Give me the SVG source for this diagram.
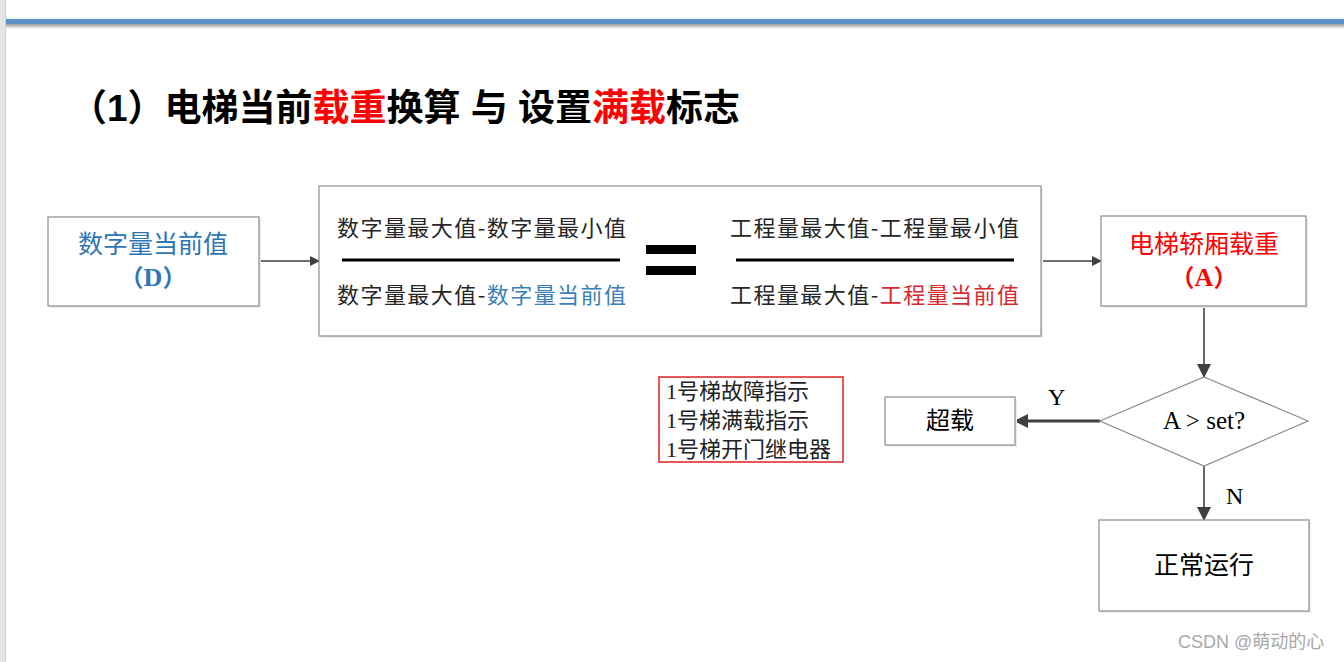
<svg xmlns="http://www.w3.org/2000/svg" width="1344" height="662" viewBox="0 0 1344 662">
<defs>
<marker id="arr" markerWidth="10" markerHeight="10" refX="9" refY="5" orient="auto" markerUnits="userSpaceOnUse"><path d="M0,0 L10,5 L0,10 Z" fill="#404040"/></marker>
<marker id="arrL" markerWidth="14" markerHeight="14" refX="13" refY="7" orient="auto" markerUnits="userSpaceOnUse"><path d="M0,0 L14,7 L0,14 Z" fill="#404040"/></marker>
<linearGradient id="barShade" x1="0" y1="0" x2="0" y2="1"><stop offset="0" stop-color="#9a9a9a"/><stop offset="1" stop-color="#ffffff"/></linearGradient>
</defs>
<style>
.box{fill:#fff;stroke:#8c8c8c;stroke-width:1.2}
.shadow{fill:#ececec}
.cjk{font-family:"Noto Sans CJK SC","Liberation Sans",sans-serif}
.ser{font-family:"Liberation Serif","Noto Sans CJK SC",serif}
.frac{font-family:"Noto Sans CJK SC","Liberation Sans",sans-serif;font-size:22px;fill:#262626}
.conn{stroke:#404040;stroke-width:1.6;fill:none}
</style>
<rect width="1344" height="662" fill="#ffffff"/>
<rect x="0" y="0" width="5" height="662" fill="#e4e4e4"/>
<rect x="5" y="0" width="1" height="662" fill="#d0d0d0"/>
<rect x="6" y="17" width="1338" height="2" fill="#eef8f8"/>
<rect x="6" y="19" width="1338" height="5" fill="#5b8fc6"/>
<rect x="6" y="24" width="1338" height="5" fill="url(#barShade)"/>

<text x="70" y="121" font-family="'Liberation Sans','Noto Sans CJK SC',sans-serif" font-weight="bold" font-size="37" fill="#000" textLength="670" lengthAdjust="spacing">（1）电梯当前<tspan fill="#ff0000">载重</tspan>换算 与 设置<tspan fill="#ff0000">满载</tspan>标志</text>

<g id="connectors">
<line class="conn" x1="259" y1="261" x2="319" y2="261" marker-end="url(#arr)"/>
<line class="conn" x1="1041" y1="261" x2="1101" y2="261" marker-end="url(#arr)"/>
<line class="conn" x1="1204" y1="306" x2="1204" y2="377" marker-end="url(#arrL)"/>
<line x1="1100" y1="421" x2="1015" y2="421" stroke="#404040" stroke-width="3" marker-end="url(#arrL)"/>
<line class="conn" x1="1204" y1="466" x2="1204" y2="520" marker-end="url(#arrL)"/>
<text x="1048" y="405" class="ser" font-size="24" fill="#000">Y</text>
<text x="1226" y="504" class="ser" font-size="24" fill="#000">N</text>
</g>

<g id="node-D">
<rect class="shadow" x="50" y="219" width="211" height="89"/>
<rect class="box" x="48" y="217" width="211" height="89"/>
<text x="153" y="253" class="cjk" font-size="25" fill="#2e75b6" text-anchor="middle">数字量当前值</text>
<text x="153" y="286" class="cjk" font-size="24" font-weight="bold" fill="#2e75b6" text-anchor="middle">（<tspan class="ser" font-size="26">D</tspan>）</text>
</g>

<g id="node-formula">
<rect class="shadow" x="321" y="188" width="722" height="150"/>
<rect class="box" x="319" y="186" width="722" height="150"/>
<text x="337" y="236" class="frac" textLength="289" lengthAdjust="spacing">数字量最大值-数字量最小值</text>
<line x1="342" y1="260" x2="620" y2="260" stroke="#000" stroke-width="3"/>
<text x="337" y="303" class="frac" textLength="289" lengthAdjust="spacing">数字量最大值-<tspan fill="#3a7fb8">数字量当前值</tspan></text>
<rect x="646" y="245" width="50" height="9" fill="#000"/>
<rect x="646" y="266" width="50" height="9" fill="#000"/>
<text x="730" y="236" class="frac" textLength="289" lengthAdjust="spacing">工程量最大值-工程量最小值</text>
<line x1="736" y1="260" x2="1014" y2="260" stroke="#000" stroke-width="3"/>
<text x="730" y="303" class="frac" textLength="289" lengthAdjust="spacing">工程量最大值-<tspan fill="#d8282e">工程量当前值</tspan></text>
</g>

<g id="node-A">
<rect class="shadow" x="1103" y="218" width="205" height="90"/>
<rect class="box" x="1101" y="216" width="205" height="90"/>
<text x="1204" y="253" class="cjk" font-size="25" fill="#ff0000" text-anchor="middle">电梯轿厢载重</text>
<text x="1204" y="286" class="cjk" font-size="24" font-weight="bold" fill="#ff0000" text-anchor="middle">（<tspan class="ser" font-size="26">A</tspan>）</text>
</g>

<g id="node-decision">
<polygon points="1204,377 1308,421 1204,466 1100,421" fill="#fff" stroke="#8c8c8c" stroke-width="1.2"/>
<text x="1204" y="429" class="ser" font-size="25" fill="#000" text-anchor="middle">A &gt; set?</text>
</g>

<g id="node-overload">
<rect class="shadow" x="887" y="399" width="130" height="48"/>
<rect class="box" x="885" y="397" width="130" height="48"/>
<text x="950" y="429" class="cjk" font-size="24" fill="#000" text-anchor="middle">超载</text>
</g>

<g id="node-normal">
<rect class="shadow" x="1101" y="522" width="210" height="91"/>
<rect class="box" x="1099" y="520" width="210" height="91"/>
<text x="1204" y="574" class="cjk" font-size="25" fill="#000" text-anchor="middle">正常运行</text>
</g>

<g id="node-signals">
<rect x="659" y="377" width="184" height="85" fill="#fff" stroke="#e02020" stroke-width="1.5"/>
<text x="666" y="399" class="ser" font-size="22" fill="#222">1号梯故障指示</text>
<text x="666" y="428" class="ser" font-size="22" fill="#222">1号梯满载指示</text>
<text x="666" y="457" class="ser" font-size="22" fill="#222">1号梯开门继电器</text>
</g>

<text x="1178" y="648" font-family="'Liberation Sans','Noto Sans CJK SC',sans-serif" font-size="18" fill="#a8a8a8">CSDN @萌动的心</text>
</svg>
